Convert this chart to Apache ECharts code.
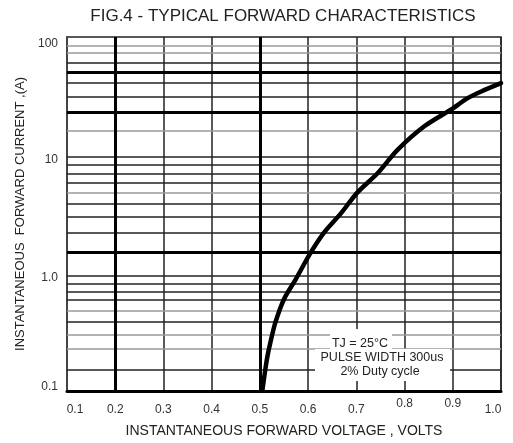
<!DOCTYPE html>
<html>
<head>
<meta charset="utf-8">
<script src="https://cdn.jsdelivr.net/npm/echarts@6/dist/echarts.min.js"></script>
<style>
  html, body { margin: 0; padding: 0; background: #fff; }
  #chart { width: 513px; height: 443px; }
</style>
</head>
<body>
<div id="chart"></div>
<script>
// ---- data ----
const titleText = 'FIG.4 - TYPICAL FORWARD CHARACTERISTICS';
const xAxisName = 'INSTANTANEOUS FORWARD VOLTAGE , VOLTS';
const yAxisName = 'INSTANTANEOUS  FORWARD CURRENT ,(A)';
const noteLines = ['TJ = 25°C', 'PULSE WIDTH 300us', '2% Duty cycle'];

// forward voltage (V) and instantaneous forward current (A)
const voltage = [0.505, 0.511, 0.516, 0.522, 0.532, 0.550, 0.574, 0.605, 0.633, 0.668, 0.702, 0.744, 0.785, 0.841, 0.896, 0.931, 0.959, 1.0];
const current = [0.1, 0.15, 0.2, 0.26, 0.38, 0.6, 0.88, 1.48, 2.2, 3.2, 4.8, 7.0, 11.0, 17.5, 24.2, 30.3, 34.5, 40.6];

// horizontal grid lines of the printed log paper (values where they sit)
const hGridDecade = [9.7, 0.95];
const hGridThick = [50, 23, 1.5];
const hGridDark = [61, 41, 31, 8.2, 6.9, 5.8, 3.9, 3.0, 2.2, 0.81, 0.69, 0.59, 0.39, 0.15];
const hGridGray = [85, 73, 16, 4.75, 0.48, 0.30, 0.225];
// vertical grid lines
const vGridThick = [0.2, 0.5];

const xTickLabels = ['0.1', '0.2', '0.3', '0.4', '0.5', '0.6', '0.7', '0.8', '0.9', '1.0'];
const yTickLabels = { '0.1': '0.1', '1': '1.0', '10': '10', '100': '100' };

// ---- build chart ----
const chart = echarts.init(document.getElementById('chart'), null, { renderer: 'canvas' });

const FONT = '"Liberation Sans", Arial, sans-serif';
const styleThick = { color: '#000', width: 3, type: 'solid' };
const styleDark = { color: '#222', width: 1.5, type: 'solid' };
const styleGray = { color: '#9a9a9a', width: 1.5, type: 'solid' };

const gridMarks = []
  .concat(hGridGray.map(v => ({ yAxis: v, lineStyle: styleGray })))
  .concat(hGridDark.map(v => ({ yAxis: v, lineStyle: styleDark })))
  .concat(hGridDecade.map(v => ({ yAxis: v, lineStyle: styleDark })))
  .concat(hGridThick.map(v => ({ yAxis: v, lineStyle: styleThick })))
  .concat(vGridThick.map(v => ({ xAxis: v, lineStyle: styleThick })));

function xLabel(v) {
  const idx = Math.round((v - 0.1) / 0.1);
  const t = xTickLabels[idx];
  if (t === undefined) return '';
  if (idx === 0) return '{first|' + t + '}';
  if (idx === 9) return '{last|' + t + '}';
  if (idx === 7 || idx === 8) return '{hi|' + t + '}';
  return '{n|' + t + '}';
}
function yLabel(v) {
  const key = String(Math.round(Math.log10(v)) >= 0 ? Math.round(v) : 0.1);
  const t = yTickLabels[key];
  if (!t) return '';
  if (key === '100') return '{a|' + t + '}';
  if (key === '10') return '{b|' + t + '}';
  if (key === '1') return '{c|' + t + '}';
  return '{d|' + t + '}';
}

const lblBase = { fontFamily: FONT, fontSize: 12, color: '#333' };
function noteTitle(t, cx, top) {
  return {
    text: t, left: cx, top: top, textAlign: 'center', padding: 0, z: 60,
    textStyle: { fontFamily: FONT, fontSize: 12.5, fontWeight: 'normal', color: '#222', lineHeight: 14 }
  };
}

const option = {
  backgroundColor: '#fff',
  animation: false,
  title: [
    {
      text: titleText,
      left: 278,
      textAlign: 'center',
      top: 3,
      textStyle: { fontFamily: FONT, fontSize: 17, fontWeight: 'normal', color: '#222' }
    },
    noteTitle(noteLines[0], 360, 337),
    noteTitle(noteLines[1], 382, 351),
    noteTitle(noteLines[2], 380, 365)
  ],
  grid: {
    left: 67, right: 12, top: 37, bottom: 51,
    show: true, borderColor: '#222', borderWidth: 1.5, backgroundColor: 'transparent'
  },
  xAxis: {
    type: 'value',
    min: 0.1, max: 1.0, interval: 0.1,
    name: xAxisName,
    nameLocation: 'middle',
    nameGap: 33,
    nameTextStyle: { fontFamily: FONT, fontSize: 14, color: '#222' },
    axisLine: { show: true, lineStyle: { color: '#000', width: 3 } },
    axisTick: { show: false },
    splitLine: { show: true, lineStyle: { color: '#222', width: 1.5 } },
    axisLabel: {
      margin: 7,
      formatter: xLabel,
      rich: {
        n: Object.assign({ padding: [6, 0, 0, 0] }, lblBase),
        hi: Object.assign({ padding: [0, 0, 0, 0] }, lblBase),
        first: Object.assign({ padding: [6, 0, 0, 16] }, lblBase),
        last: Object.assign({ padding: [6, 16, 0, 0] }, lblBase)
      }
    }
  },
  yAxis: {
    type: 'log',
    logBase: 10,
    min: 0.1, max: 100,
    name: yAxisName,
    nameLocation: 'middle',
    nameGap: 40,
    nameTextStyle: { fontFamily: FONT, fontSize: 13, color: '#222' },
    axisLine: { show: true, lineStyle: { color: '#444', width: 2 } },
    axisTick: { show: false },
    splitLine: { show: false },
    minorSplitLine: { show: false },
    axisLabel: {
      margin: 9,
      formatter: yLabel,
      rich: {
        a: Object.assign({ padding: [14, 0, 0, 0] }, lblBase),
        b: Object.assign({ padding: [10, 0, 0, 0] }, lblBase),
        c: Object.assign({ padding: [9, 0, 0, 0] }, lblBase),
        d: Object.assign({ padding: [0, 0, 9, 0] }, lblBase)
      }
    }
  },
  graphic: [
    { type: 'rect', z: 50, shape: { x: 330, y: 329, width: 62, height: 21 }, style: { fill: '#fff' } },
    { type: 'rect', z: 50, shape: { x: 315, y: 349, width: 135, height: 32 }, style: { fill: '#fff' } }
  ],
  series: [
    {
      name: 'grid-paper',
      type: 'line',
      data: [],
      z: 1,
      silent: true,
      markLine: {
        silent: true,
        symbol: ['none', 'none'],
        label: { show: false },
        emphasis: { disabled: true },
        data: gridMarks
      }
    },
    {
      name: 'forward',
      type: 'line',
      z: 5,
      data: voltage.map((v, i) => [v, current[i]]),
      smooth: 0.3,
      showSymbol: false,
      symbol: 'none',
      clip: true,
      lineStyle: { color: '#000', width: 4.5, cap: 'round', join: 'round' }
    }
  ]
};

chart.setOption(option);
</script>
</body>
</html>
